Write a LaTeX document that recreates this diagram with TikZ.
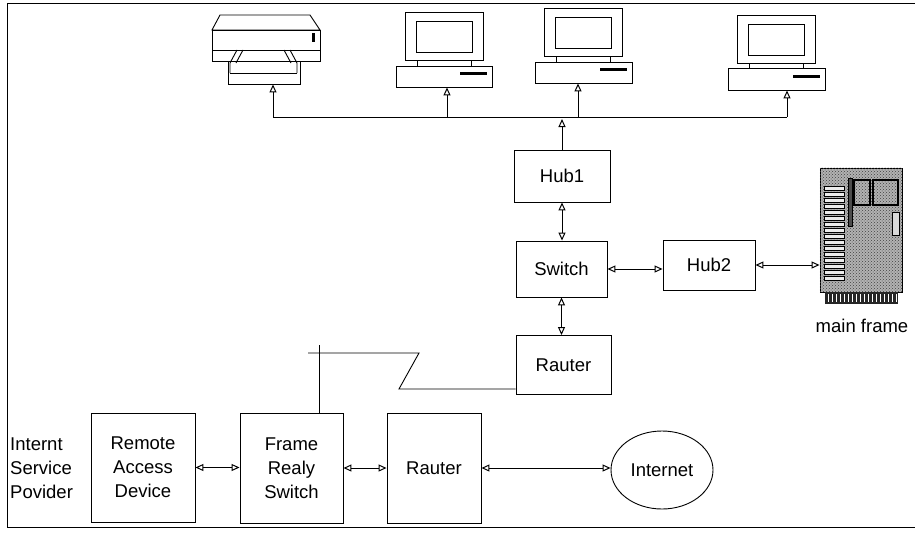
\documentclass[tikz,border=0pt]{standalone}
\usepackage{fontspec}
\setmainfont{Liberation Sans}
\usetikzlibrary{arrows.meta,patterns,shapes.geometric}
\newcommand\diaglbl{\fontsize{18.5}{24}\selectfont}
\begin{document}
\begin{tikzpicture}[x=1pt,y=-1pt,
  lw/.style={line width=0.9pt},
  tipA/.tip={Triangle[open,length=8pt,width=7pt,line width=1pt]},
  box/.style={draw,lw,rectangle,inner sep=0pt,align=center,font=\diaglbl},
  link/.style={lw,tipA-tipA},
  uplink/.style={lw,-tipA},
  monitor/.pic={
    \draw[lw] (-39,-75) rectangle (39,-27);
    \draw[lw] (-28,-66) rectangle (28,-35);
    \draw[lw] (-27,-27) -- (-27,-21) (27,-27) -- (27,-21);
    \fill (16,-15) rectangle (43,-12);
  }]
\useasboundingbox (0,0) rectangle (915,533);

% outer frame (open on the right)
\draw[lw] (915,3) -- (7,3) -- (7,527) -- (915,527);

% ---- printer ----
\node[draw,lw,minimum width=72pt,minimum height=23pt,inner sep=0pt] (prn) at (264,72.5) {};
\draw[lw] (220,15) -- (310,15) -- (320,30) -- (212,30) -- cycle;
\draw[lw] (212,30) rectangle (320,61);
\draw[lw] (212,50) -- (320,50);
\draw[lw] (237,50) -- (230,63) -- (230,73) (243,50) -- (236,63);
\draw[lw] (290,50) -- (297,63) -- (297,73) (284,50) -- (291,63);
\draw[lw] (241,61) -- (287,61);
\draw[lw] (230,73) -- (297,73);
\fill (312,33) rectangle (315,42);

% ---- workstations ----
\node[box,minimum width=96pt,minimum height=21pt] (pc1) at (444,76.5) {};
\pic at (pc1.south) {monitor};
\node[box,minimum width=97pt,minimum height=21pt] (pc2) at (583.5,72.5) {};
\pic at (pc2.south) {monitor};
\node[box,minimum width=97pt,minimum height=22pt] (pc3) at (776.5,79) {};
\pic at (pc3.south) {monitor};

% ---- network boxes ----
\node[box,minimum width=96pt,minimum height=52pt] (hub1) at (562,176) {Hub1};
\node[box,minimum width=91pt,minimum height=56pt] (switch) at (561.5,269) {Switch};
\node[box,minimum width=92pt,minimum height=50pt] (hub2) at (709,265) {Hub2};
\node[box,minimum width=95pt,minimum height=59pt] (rtA) at (563.5,365) {Rauter};
\node[box,minimum width=104pt,minimum height=109pt] (rad) at (143,467.5) {Remote\\Access\\Device};
\node[box,minimum width=103pt,minimum height=110pt] (frs) at (291.5,468) {Frame\\Realy\\Switch};
\node[box,minimum width=94pt,minimum height=110pt] (rtB) at (434,468) {Rauter};
\node[draw,lw,ellipse,minimum width=102pt,minimum height=78pt,inner sep=0pt,font=\diaglbl] (inet) at (662,470) {Internet};
\node[font=\diaglbl,align=left,anchor=west,inner sep=0pt] (isp) at (10,468) {Internt\\Service\\Povider};

% ---- mainframe ----
\node[draw,lw,fill=gray!60,minimum width=82pt,minimum height=124pt,inner sep=0pt] (mf) at (861,230) {};
\fill[pattern=crosshatch dots,pattern color=black!75] (mf.north west) rectangle (mf.south east);
\foreach \k in {0,...,15}
  \draw[line width=0.6pt,fill=gray!15] (824,{186+6*\k}) rectangle (844,{190+6*\k});
\draw[lw,fill=black!70] (848,178) rectangle (852,226);
\draw[line width=1.2pt] (854,180) rectangle (870,205);
\draw[line width=1.2pt] (873,180) rectangle (898,205);
\draw[lw,fill=gray!30] (892,212) rectangle (899,235);
\fill[black!85] (825,292) rectangle (898,304);
\foreach \k in {0,...,17}
  \draw[white,line width=0.6pt] ({828+4*\k},294) -- ({828+4*\k},302);
\node[font=\diaglbl] (mflbl) at (862,326) {main frame};

% ---- LAN bus ----
\coordinate (busL) at (273,117);
\coordinate (busR) at (787,117);
\coordinate (t1) at (447,117);
\coordinate (t2) at (578,117);
\coordinate (hubtap) at (562,119);
\draw[lw] (busL) -- (busR);
\draw[uplink] (busL) -- (busL |- prn.south);
\draw[uplink] (t1) -- (t1 |- pc1.south);
\draw[uplink] (t2) -- (t2 |- pc2.south);
\draw[uplink] (busR) -- (busR |- pc3.south);
\draw[uplink] (hub1.north) -- (hubtap);

% ---- links ----
\draw[link] (hub1.south) -- (hub1.south |- switch.north);
\draw[link] (switch.east) -- (switch.east -| hub2.west);
\draw[link] (hub2.east) -- (hub2.east -| mf.west);
\draw[link] (switch.south) -- (switch.south |- rtA.north);
\draw[link] (rad.east) -- (rad.east -| frs.west);
\draw[link] (frs.east) -- (frs.east -| rtB.west);
\draw[link] (rtB.east) -- (rtB.east -| inet.west);

% ---- leased line with lightning zigzag ----
\coordinate (zt) at (319,345);
\coordinate (za) at (308,353);
\coordinate (zb) at (419,353);
\coordinate (zc) at (399,389);
\draw[lw] (frs.north -| zt) -- (zt);
\draw[lw] (za) -- (zb) -- (zc) -- (zc -| rtA.west);
\end{tikzpicture}
\end{document}
